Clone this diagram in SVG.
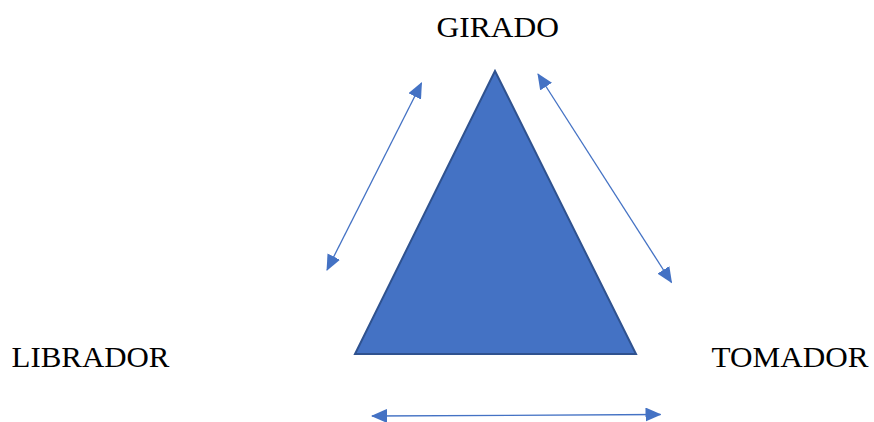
<svg xmlns="http://www.w3.org/2000/svg" width="874" height="422" viewBox="0 0 874 422">
<style>
.lbl{font-family:"Liberation Serif","Times New Roman",serif;font-size:29.5px;fill:#000}
.conn{stroke:#4472C4;stroke-width:1.3;fill:none;marker-start:url(#ah);marker-end:url(#ah)}
</style>
<defs>
<marker id="ah" viewBox="0 0 16 14" refX="15" refY="7" markerWidth="16" markerHeight="14" markerUnits="userSpaceOnUse" orient="auto-start-reverse">
<path d="M0,0 L16,7 L0,14 z" fill="#4472C4"/>
</marker>
</defs>
<rect width="874" height="422" fill="#fff"/>
<g id="triangle">
<polygon points="495,71 355,354 636,354" fill="#4472C4" stroke="#2F528F" stroke-width="2" stroke-linejoin="miter"/>
</g>
<g id="girado"><text class="lbl" x="436.5" y="36.7" textLength="122.5" lengthAdjust="spacingAndGlyphs">GIRADO</text></g>
<g id="librador"><text class="lbl" x="11.5" y="366.7" textLength="158" lengthAdjust="spacingAndGlyphs">LIBRADOR</text></g>
<g id="tomador"><text class="lbl" x="711.5" y="366.7" textLength="157" lengthAdjust="spacingAndGlyphs">TOMADOR</text></g>
<g id="connectors">
<line class="conn" x1="327" y1="270" x2="421.5" y2="83"/>
<line class="conn" x1="538" y1="74" x2="671.5" y2="282.5"/>
<line class="conn" x1="372" y1="416" x2="660.5" y2="414.5"/>
</g>
</svg>
